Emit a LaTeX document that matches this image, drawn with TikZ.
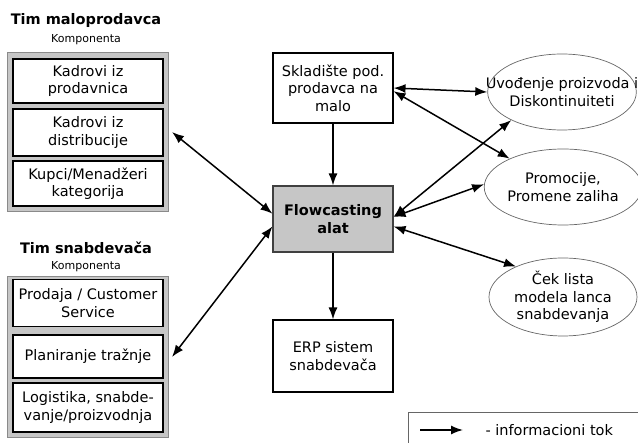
\documentclass[tikz,border=0pt]{standalone}
\usepackage{fontspec}
\setmainfont{DejaVu Sans}
\usetikzlibrary{arrows.meta,shapes.geometric}
\definecolor{boxgray}{HTML}{C6C6C6}
\definecolor{rimgray}{HTML}{8A8A8A}
\tikzset{
  teambox/.style={draw=rimgray, fill=boxgray, line width=1pt},
  itembox/.style={draw, fill=white, line width=1.2pt, minimum width=150pt, align=center, inner sep=1pt, font=\fontsize{14.5}{17.5}\selectfont},
  mainbox/.style={draw, fill=white, line width=1.1pt, minimum width=120pt, align=center, font=\fontsize{14.5}{17.5}\selectfont},
  planoval/.style={ellipse, draw=black!60, line width=0.7pt, minimum width=148pt, minimum height=76pt, inner sep=0pt, align=center, font=\fontsize{14.5}{17.5}\selectfont},
  infoflow/.style={line width=1.5pt, -{Latex[length=12pt,width=9pt]}},
  twoflow/.style={line width=1.5pt, {Latex[length=12pt,width=9pt]}-{Latex[length=12pt,width=9pt]}}
}
\begin{document}
\begin{tikzpicture}[x=1pt, y=-1pt]
			\useasboundingbox (0, 0) rectangle (638, 443);
			\clip (0, 0) rectangle (638, 443);
			
			%%%%% TIM MALOPRODAVCA %%%%%
			\node[font=\fontsize{14.5}{17}\selectfont\bfseries] (malotitle) at (86, 21) {Tim maloprodavca};
			\node[font=\fontsize{11}{13}\selectfont] (malokomp) at (86, 40) {Komponenta};
			\draw[teambox] (7, 53) rectangle (168, 212);
			\coordinate (maloedge) at (168, 132);
			\node[itembox, minimum height=44pt] (malo1) at (88, 81) {Kadrovi iz\\prodavnica};
			\node[itembox, minimum height=47pt] (malo2) at (88, 132.5) {Kadrovi iz\\distribucije};
			\node[itembox, minimum height=45pt] (malo3) at (88, 183.5) {Kupci/Menadžeri\\kategorija};
			
			%%%%% TIM SNABDEVACA %%%%%
			\node[font=\fontsize{14.5}{17}\selectfont\bfseries] (snabtitle) at (86, 248) {Tim snabdevača};
			\node[font=\fontsize{11}{13}\selectfont] (snabkomp) at (86, 267) {Komponenta};
			\draw[teambox] (7, 277) rectangle (168, 438);
			\coordinate (snabedge) at (168, 357);
			\node[itembox, minimum height=47pt] (snab1) at (88, 303) {Prodaja / Customer\\Service};
			\node[itembox, minimum height=43pt] (snab2) at (88, 356.5) {Planiranje tražnje};
			\node[itembox, minimum height=49pt] (snab3) at (88, 407.5) {Logistika, snabde-\\vanje/proizvodnja};
			
			%%%%% SREDINA %%%%%
			\node[mainbox, minimum height=70pt] (sklad) at (333, 88) {Skladište pod.\\prodavca na\\malo};
			\node[mainbox, minimum height=66pt, fill=boxgray, draw=black!75, font=\fontsize{14.5}{18}\selectfont\bfseries] (flow) at (333, 219) {Flowcasting\\alat};
			\node[mainbox, minimum height=72pt] (erp) at (333, 356) {ERP sistem\\snabdevača};
			
			%%%%% DESNO %%%%%
			\node[planoval] (uvod) at (562, 92) {\makebox[0pt]{Uvođenje proizvoda i}\\Diskontinuiteti};
			\node[planoval] (promo) at (563, 187) {Promocije,\\Promene zaliha};
			\node[planoval, minimum height=78pt] (cek) at (563, 297) {Ček lista\\modela lanca\\snabdevanja};
			
			%%%%% VEZE %%%%%
			\draw[infoflow] (sklad) -- (flow);
			\draw[infoflow] (flow) -- (erp);
			\draw[twoflow] (sklad.east) -- (uvod.west);
			\draw[twoflow] (sklad.-3) -- (promo.152);
			\draw[twoflow] (flow.2) -- (uvod.209);
			\draw[twoflow] (flow.2) -- (promo.178);
			\draw[twoflow] (flow.-7) -- (cek.147);
			\draw[twoflow] (flow.175) -- ([xshift=4pt]maloedge);
			\draw[twoflow] (flow.187) -- ([xshift=4pt]snabedge);
			
			%%%%% LEGENDA %%%%%
			\draw[line width=0.8pt, draw=black!60] (408, 412) rectangle (660, 470);
			\coordinate (legstart) at (420, 430);
			\coordinate (legend) at (463, 430);
			\draw[infoflow] (legstart) -- (legend);
			\node[anchor=west, font=\fontsize{14.5}{17}\selectfont] (legtext) at (482, 430) {- informacioni tok};
		\end{tikzpicture}
\end{document}
